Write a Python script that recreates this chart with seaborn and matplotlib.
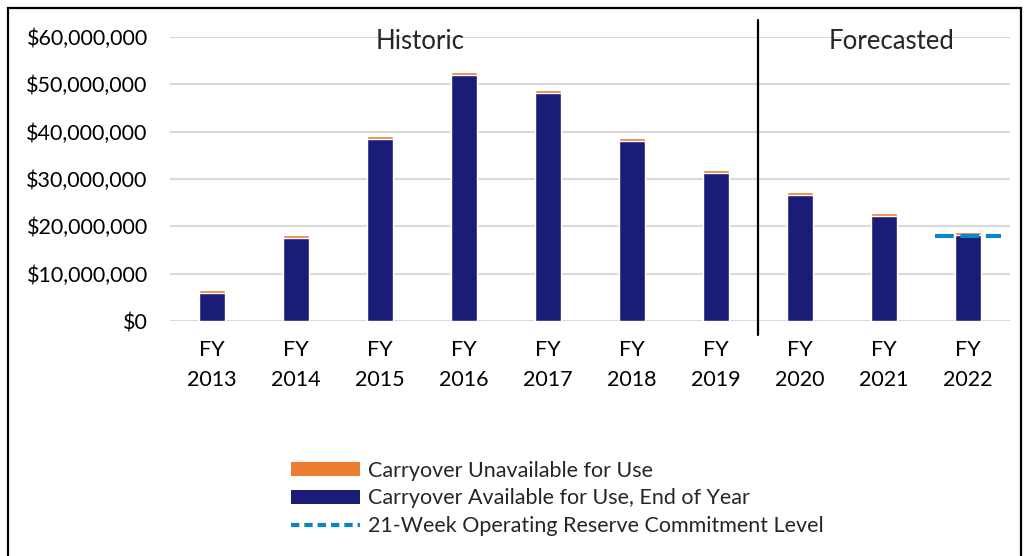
import matplotlib
matplotlib.use("Agg")
import matplotlib.pyplot as plt
import matplotlib.transforms as mtransforms
from matplotlib.patches import Patch, Rectangle
from matplotlib.lines import Line2D
from matplotlib.ticker import FuncFormatter
import seaborn as sns
import pandas as pd

categories = ["FY\n2013", "FY\n2014", "FY\n2015", "FY\n2016", "FY\n2017",
              "FY\n2018", "FY\n2019", "FY\n2020", "FY\n2021", "FY\n2022"]
available = [5.98e6, 17.6e6, 38.4e6, 52.0e6, 48.2e6, 38.1e6, 31.3e6, 26.7e6, 22.2e6, 18.1e6]
unavailable = [0.6e6, 0.6e6, 0.6e6, 0.6e6, 0.6e6, 0.6e6, 0.6e6, 0.6e6, 0.6e6, 0.6e6]
reserve_level = 18.0e6
section_labels = ["Historic", "Forecasted"]
yticks = [0, 10e6, 20e6, 30e6, 40e6, 50e6, 60e6]

sns.set_style("white")
plt.rcParams["font.family"] = ["Lato", "DejaVu Sans"]

df = pd.DataFrame({
    "cat": categories,
    "avail": available,
    "total": [a + u for a, u in zip(available, unavailable)],
})

fig = plt.figure(figsize=(10.30, 5.56), dpi=100)
ax = fig.add_axes([170 / 1030, 1 - 321 / 556, 840 / 1030, 284 / 556])

ORANGE = "#ED7D31"
NAVY = "#1B1B78"
BLUE = "#0A86C8"

sns.barplot(data=df, x="cat", y="total", order=categories, color=ORANGE,
            width=0.3, ax=ax, saturation=1, zorder=2)
sns.barplot(data=df, x="cat", y="avail", order=categories, color=NAVY,
            width=0.3, ax=ax, saturation=1, zorder=3)

ax.hlines(reserve_level, 9 - 0.39, 9 + 0.39, colors=BLUE, linewidth=3,
          linestyles=(0, (4.5, 1.6)), zorder=4)

ax.set_xlim(-0.5, 9.5)
ax.set_ylim(0, 60e6)
ax.set_yticks(yticks)
ax.yaxis.set_major_formatter(FuncFormatter(lambda v, p: "${:,.0f}".format(v)))
ax.grid(axis="y", color="#D9D9D9", linewidth=1.5, zorder=0)
ax.set_axisbelow(True)
for s in ax.spines.values():
    s.set_visible(False)
ax.tick_params(axis="both", length=0, labelsize=15.5, colors="black")
ax.tick_params(axis="y", pad=16)
ax.tick_params(axis="x", pad=14)
for lbl in ax.get_xticklabels():
    lbl.set_linespacing(1.6)
ax.set_xlabel("")
ax.set_ylabel("")

# separator line
trans = mtransforms.blended_transform_factory(ax.transData, ax.transAxes)
ax.plot([6.5, 6.5], [-0.05, 1.06], transform=trans, color="black",
        linewidth=1.6, clip_on=False, zorder=5)

ax.text(2.48, 59e6, section_labels[0], ha="center", va="center", fontsize=18.5)
ax.text(8.09, 59e6, section_labels[1], ha="center", va="center", fontsize=18.5)

handles = [
    Patch(facecolor=ORANGE, edgecolor="none"),
    Patch(facecolor=NAVY, edgecolor="none"),
    Line2D([0], [0], color=BLUE, linewidth=3, linestyle=(0, (2, 1.2))),
]
labels = ["Carryover Unavailable for Use",
          "Carryover Available for Use, End of Year",
          "21-Week Operating Reserve Commitment Level"]
fig.legend(handles, labels, loc="upper left",
           bbox_to_anchor=(280 / 1030, 1 - 450 / 556), frameon=False,
           fontsize=15.5, handlelength=3.2, handleheight=0.6,
           handletextpad=0.4, labelspacing=0.35, borderpad=0)

fig.add_artist(Rectangle((8 / 1030, -0.05), 1013 / 1030, 1.05 - 8 / 556,
                         transform=fig.transFigure, fill=False,
                         edgecolor="black", linewidth=1.6))

fig.savefig("out.png", dpi=100)
